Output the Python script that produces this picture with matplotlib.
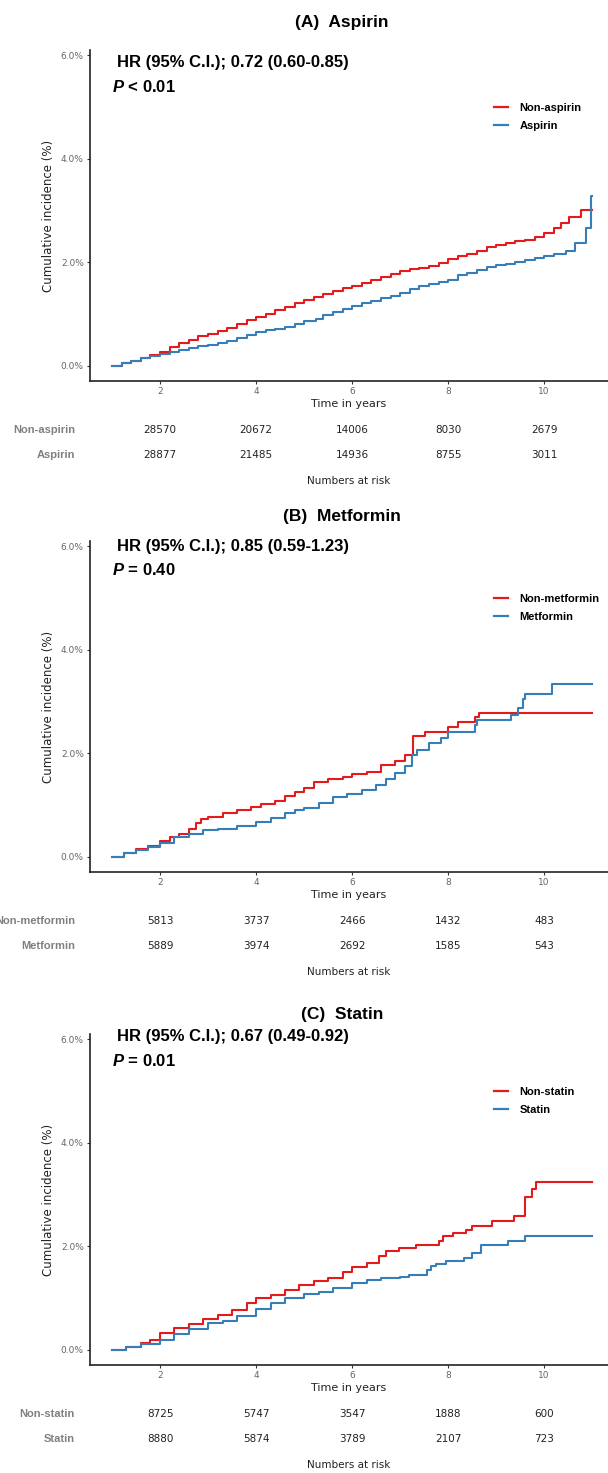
import matplotlib
matplotlib.use("Agg")
import matplotlib.pyplot as plt
from matplotlib.lines import Line2D
from matplotlib import transforms

# couleurs des courbes
RED = "#E41A1C"
BLUE = "#377EB8"

# ---- données (incidence cumulée en %) ----
# (A) Aspirin
a_red_t = [1.0, 1.2, 1.4, 1.6, 1.8, 2.0, 2.2, 2.4, 2.6, 2.8, 3.0, 3.2, 3.4, 3.6, 3.8, 4.0, 4.2, 4.4, 4.6, 4.8,
           5.0, 5.2, 5.4, 5.6, 5.8, 6.0, 6.2, 6.4, 6.6, 6.8, 7.0, 7.2, 7.4, 7.6, 7.8, 8.0, 8.2, 8.4, 8.6, 8.8,
           9.0, 9.2, 9.4, 9.6, 9.8, 10.0, 10.2, 10.35, 10.52, 10.77, 11.0]
a_red_v = [0.0, 0.05, 0.10, 0.15, 0.21, 0.28, 0.37, 0.44, 0.51, 0.57, 0.62, 0.68, 0.74, 0.81, 0.88, 0.94, 1.01,
           1.08, 1.14, 1.21, 1.28, 1.33, 1.39, 1.44, 1.50, 1.55, 1.60, 1.66, 1.72, 1.78, 1.83, 1.87, 1.90, 1.94,
           1.99, 2.06, 2.12, 2.16, 2.22, 2.29, 2.34, 2.37, 2.41, 2.44, 2.50, 2.57, 2.66, 2.76, 2.88, 3.02, 3.02]
a_blue_t = [1.0, 1.2, 1.4, 1.6, 1.8, 2.0, 2.2, 2.4, 2.6, 2.8, 3.0, 3.2, 3.4, 3.6, 3.8, 4.0, 4.2, 4.4, 4.6, 4.8,
            5.0, 5.25, 5.4, 5.6, 5.8, 6.0, 6.2, 6.4, 6.6, 6.8, 7.0, 7.2, 7.4, 7.6, 7.8, 8.0, 8.2, 8.4, 8.6, 8.8,
            9.0, 9.2, 9.4, 9.6, 9.8, 10.0, 10.2, 10.45, 10.65, 10.88, 10.97, 11.0]
a_blue_v = [0.0, 0.05, 0.10, 0.15, 0.20, 0.24, 0.28, 0.31, 0.35, 0.38, 0.41, 0.44, 0.49, 0.54, 0.60, 0.65, 0.69,
            0.72, 0.76, 0.82, 0.86, 0.90, 0.98, 1.04, 1.10, 1.16, 1.21, 1.26, 1.31, 1.36, 1.42, 1.48, 1.54, 1.59,
            1.63, 1.67, 1.75, 1.80, 1.86, 1.92, 1.96, 1.98, 2.00, 2.05, 2.09, 2.13, 2.17, 2.22, 2.37, 2.67, 3.28, 3.28]

# (B) Metformin
b_red_t = [1.0, 1.25, 1.5, 1.75, 2.0, 2.2, 2.4, 2.6, 2.75, 2.85, 3.0, 3.3, 3.6, 3.9, 4.1, 4.4, 4.6, 4.8, 5.0,
           5.2, 5.5, 5.8, 6.0, 6.3, 6.6, 6.9, 7.1, 7.27, 7.52, 8.0, 8.2, 8.55, 8.65, 11.0]
b_red_v = [0.0, 0.08, 0.15, 0.22, 0.30, 0.38, 0.45, 0.55, 0.65, 0.74, 0.78, 0.85, 0.90, 0.97, 1.02, 1.08, 1.18,
           1.25, 1.33, 1.45, 1.50, 1.55, 1.60, 1.65, 1.78, 1.85, 1.97, 2.34, 2.41, 2.51, 2.61, 2.70, 2.79, 2.79]
b_blue_t = [1.0, 1.25, 1.5, 1.75, 2.0, 2.3, 2.6, 2.9, 3.2, 3.6, 4.0, 4.3, 4.6, 4.8, 5.0, 5.3, 5.6, 5.9, 6.2,
            6.5, 6.7, 6.9, 7.1, 7.24, 7.35, 7.6, 7.85, 8.0, 8.55, 8.6, 9.3, 9.45, 9.55, 9.6, 10.17, 11.0]
b_blue_v = [0.0, 0.07, 0.14, 0.20, 0.28, 0.38, 0.45, 0.52, 0.55, 0.60, 0.68, 0.75, 0.85, 0.90, 0.95, 1.05, 1.15,
            1.22, 1.30, 1.40, 1.51, 1.62, 1.75, 1.97, 2.07, 2.20, 2.30, 2.42, 2.55, 2.65, 2.75, 2.88, 3.05, 3.15,
            3.35, 3.35]

# (C) Statin
c_red_t = [1.0, 1.3, 1.6, 1.8, 2.0, 2.3, 2.6, 2.9, 3.2, 3.5, 3.8, 4.0, 4.3, 4.6, 4.9, 5.2, 5.5, 5.8, 6.0, 6.3,
           6.55, 6.7, 6.98, 7.33, 7.8, 7.9, 8.1, 8.37, 8.5, 8.92, 9.37, 9.6, 9.74, 9.83, 11.0]
c_red_v = [0.0, 0.06, 0.14, 0.20, 0.33, 0.42, 0.50, 0.60, 0.68, 0.78, 0.90, 1.00, 1.06, 1.15, 1.25, 1.33, 1.40,
           1.50, 1.60, 1.68, 1.81, 1.91, 1.97, 2.03, 2.10, 2.20, 2.27, 2.32, 2.40, 2.49, 2.59, 2.96, 3.11, 3.25,
           3.25]
c_blue_t = [1.0, 1.3, 1.6, 2.0, 2.3, 2.6, 3.0, 3.3, 3.6, 4.0, 4.3, 4.6, 5.0, 5.3, 5.6, 6.0, 6.3, 6.6, 7.0, 7.18,
            7.57, 7.65, 7.75, 7.96, 8.33, 8.49, 8.69, 9.25, 9.6, 11.0]
c_blue_v = [0.0, 0.05, 0.12, 0.20, 0.30, 0.40, 0.52, 0.56, 0.65, 0.80, 0.90, 1.00, 1.08, 1.12, 1.20, 1.30, 1.36,
            1.40, 1.41, 1.45, 1.55, 1.62, 1.66, 1.72, 1.78, 1.88, 2.03, 2.11, 2.20, 2.20]

# titres, groupes et HR
titles = ["(A)  Aspirin", "(B)  Metformin", "(C)  Statin"]
group_non = ["Non-aspirin", "Non-metformin", "Non-statin"]
group_yes = ["Aspirin", "Metformin", "Statin"]
hr_texts = ["HR (95% C.I.); 0.72 (0.60-0.85)", "HR (95% C.I.); 0.85 (0.59-1.23)", "HR (95% C.I.); 0.67 (0.49-0.92)"]
p_texts = [" < 0.01", " = 0.40", " = 0.01"]

# nombres à risque
risk_times = [2, 4, 6, 8, 10]
risk_non = [[28570, 20672, 14006, 8030, 2679], [5813, 3737, 2466, 1432, 483], [8725, 5747, 3547, 1888, 600]]
risk_yes = [[28877, 21485, 14936, 8755, 3011], [5889, 3974, 2692, 1585, 543], [8880, 5874, 3789, 2107, 723]]

x_ticks = [2, 4, 6, 8, 10]
y_ticks = [0, 2, 4, 6]
y_tick_labels = ["0.0%", "2.0%", "4.0%", "6.0%"]

curves = [(a_red_t, a_red_v, a_blue_t, a_blue_v),
          (b_red_t, b_red_v, b_blue_t, b_blue_v),
          (c_red_t, c_red_v, c_blue_t, c_blue_v)]

plt.rcParams["mathtext.fontset"] = "custom"
plt.rcParams["mathtext.it"] = "Liberation Sans:italic:bold"
plt.rcParams["mathtext.rm"] = "Liberation Sans:bold"

W, H = 608, 1473
fig = plt.figure(figsize=(W / 100, H / 100), dpi=100)
ARIAL = "Liberation Sans"


def fx(x):
    return x / W


def fy(y):
    return 1 - y / H


# décalage vertical de chaque panneau (pixels)
offsets = [0, 491, 984]
# position (pixels) du titre et du texte HR pour chaque panneau
title_y = [22, 516, 1015]
hr_y = [63, 546, 1037]

for i, off in enumerate(offsets):
    red_t, red_v, blue_t, blue_v = curves[i]

    ax = fig.add_axes([fx(90), fy(381 + off), 518 / W, 331 / H])
    ax.step(red_t, red_v, where="post", color=RED, lw=1.5)
    ax.step(blue_t, blue_v, where="post", color=BLUE, lw=1.5)

    ax.set_xlim(0.54, 11.33)
    ax.set_ylim(-0.29, 6.106)
    ax.set_xticks(x_ticks)
    ax.set_yticks(y_ticks)
    ax.set_yticklabels(y_tick_labels)
    ax.tick_params(labelsize=6.5, labelcolor="#666666", color="#333333", length=2.5, width=0.8, pad=2)
    for s in ["top", "right"]:
        ax.spines[s].set_visible(False)
    for s in ["left", "bottom"]:
        ax.spines[s].set_color("#222222")
        ax.spines[s].set_linewidth(1.2)

    ax.set_ylabel("Cumulative incidence (%)", fontsize=8.5, color="#222222", labelpad=4)

    # titre du panneau
    fig.text(fx(342), fy(title_y[i]), titles[i], ha="center", va="center",
             fontsize=12.5, fontweight="bold", family=ARIAL)

    # HR et p-value
    fig.text(fx(117), fy(hr_y[i]), hr_texts[i], ha="left", va="center",
             fontsize=12, fontweight="bold", family=ARIAL)
    fig.text(fx(112), fy(hr_y[i] + 24), r"$P$" + p_texts[i], ha="left", va="center",
             fontsize=12, fontweight="bold", family=ARIAL)

    # légende
    handles = [Line2D([], [], color=RED, lw=1.6), Line2D([], [], color=BLUE, lw=1.6)]
    fig.legend(handles, [group_non[i], group_yes[i]], loc="center left",
               bbox_to_anchor=(fx(494), fy(117 + off)), frameon=False,
               prop={"family": ARIAL, "weight": "bold", "size": 8},
               handlelength=1.3, handletextpad=1.0, labelspacing=0.7, borderaxespad=0, borderpad=0)

    # axe des x et tableau des nombres à risque
    fig.text(fx(349), fy(404 + off), "Time in years", ha="center", va="center", fontsize=8, color="#222222")
    trans = transforms.blended_transform_factory(ax.transData, fig.transFigure)
    for t, n1, n2 in zip(risk_times, risk_non[i], risk_yes[i]):
        ax.text(t, fy(430 + off), str(n1), transform=trans, ha="center", va="center",
                fontsize=7.5, color="#222222", clip_on=False)
        ax.text(t, fy(455 + off), str(n2), transform=trans, ha="center", va="center",
                fontsize=7.5, color="#222222", clip_on=False)
    fig.text(fx(75), fy(430 + off), group_non[i], ha="right", va="center",
             fontsize=8, fontweight="bold", color="#808080", family=ARIAL)
    fig.text(fx(75), fy(455 + off), group_yes[i], ha="right", va="center",
             fontsize=8, fontweight="bold", color="#808080", family=ARIAL)
    fig.text(fx(349), fy(481 + off), "Numbers at risk", ha="center", va="center", fontsize=7.5, color="#222222")

fig.savefig("out.png", dpi=100)
